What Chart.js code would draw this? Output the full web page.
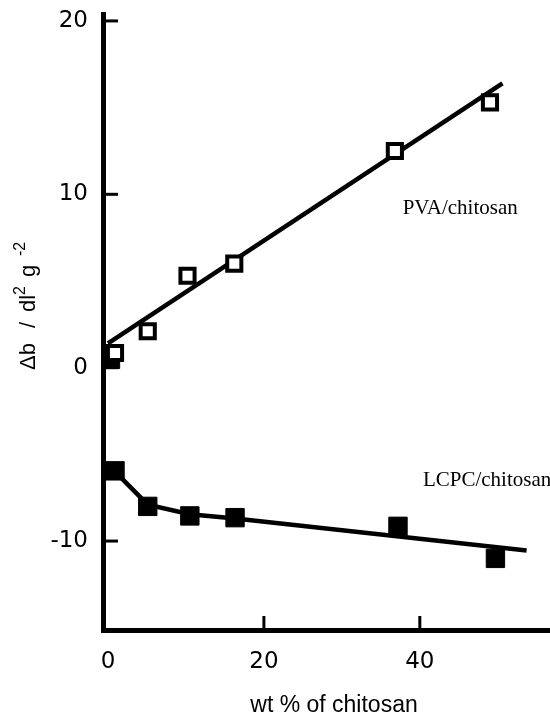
<!DOCTYPE html>
<html><head><meta charset="utf-8">
<script src="https://cdn.jsdelivr.net/npm/chart.js@4"></script>
<style>html,body{margin:0;padding:0;background:#fff;overflow:hidden}canvas{display:block}</style>
</head><body>
<canvas id="c" width="550" height="715"></canvas>
<script>
// ---- data ----
const xTicks = [0, 20, 40];
const yTicks = [-10, 0, 10, 20];

const pvaX = [0.9, 5.1, 10.2, 16.2, 36.8, 49.0];
const pvaY = [0.85, 2.1, 5.3, 6.0, 12.5, 15.3];
const pvaFitX = [0, 50.6];
const pvaFitY = [1.4, 16.4];

const lcpcX = [0.9, 5.1, 10.5, 16.3, 37.2, 49.7];
const lcpcY = [-5.95, -8.0, -8.55, -8.65, -9.15, -11.0];
const lcpcFitX = [0.9, 5.1, 10.5, 16.3, 53.7];
const lcpcFitY = [-6.0, -7.9, -8.45, -8.7, -10.55];

const originX = [0.5];
const originY = [0.4];

const xTitle = 'wt % of chitosan';
const pvaLabel = 'PVA/chitosan';
const lcpcLabel = 'LCPC/chitosan';

function pts(xs, ys) { return xs.map((x, i) => ({x: x, y: ys[i]})); }

const overlay = {
  id: 'overlay',
  afterDatasetsDraw(chart) {
    const ctx = chart.ctx, ca = chart.chartArea;
    const xs = chart.scales.x, ys = chart.scales.y;
    ctx.save();
    ctx.strokeStyle = '#000';
    ctx.lineWidth = 3;
    // inward tick marks
    yTicks.forEach(v => {
      const py = ys.getPixelForValue(v);
      ctx.beginPath(); ctx.moveTo(ca.left, py); ctx.lineTo(ca.left + 15, py); ctx.stroke();
    });
    xTicks.forEach(v => {
      if (v === 0) return;
      const px = xs.getPixelForValue(v);
      ctx.beginPath(); ctx.moveTo(px, ca.bottom); ctx.lineTo(px, ca.bottom - 14); ctx.stroke();
    });
    // series labels
    ctx.fillStyle = '#000';
    ctx.font = '21px "Liberation Serif"';
    ctx.textBaseline = 'alphabetic';
    ctx.textAlign = 'left';
    ctx.fillText(pvaLabel, xs.getPixelForValue(37.8), ys.getPixelForValue(8.85));
    ctx.fillText(lcpcLabel, xs.getPixelForValue(40.4), ys.getPixelForValue(-6.83));
    // x title
    ctx.font = '23px "Liberation Sans"';
    ctx.textAlign = 'center';
    ctx.fillText(xTitle, 334, 712);
    // y title (rotated, with superscripts)
    ctx.translate(35, 370);
    ctx.rotate(-Math.PI / 2);
    ctx.textAlign = 'left';
    const big = '22px "Liberation Sans"', small = '16px "Liberation Sans"';
    const parts = [['\u0394b', big, 0, 0], ['/', big, 42, 0], ['dl', big, 58, 0], ['2', small, 75, -10], ['g', big, 93, 0], ['-2', small, 114, -10]];
    parts.forEach(p => {
      ctx.font = p[1];
      ctx.fillText(p[0], p[2], p[3]);
    });
    ctx.restore();
  }
};

new Chart(document.getElementById('c').getContext('2d'), {
  type: 'scatter',
  data: {
    datasets: [
      { label: 'PVA fit', data: pts(pvaFitX, pvaFitY), showLine: true, borderColor: '#000', borderWidth: 4.5, pointRadius: 0, order: 2 },
      { label: 'LCPC fit', data: pts(lcpcFitX, lcpcFitY), showLine: true, borderColor: '#000', borderWidth: 4.5, pointRadius: 0, order: 2, tension: 0 },
      { label: 'PVA/chitosan', data: pts(pvaX, pvaY), pointStyle: 'rect', pointRadius: 10, backgroundColor: '#fff', borderColor: '#000', borderWidth: 4, order: 1 },
      { label: 'LCPC/chitosan', data: pts(lcpcX, lcpcY), pointStyle: 'rect', pointRadius: 13, backgroundColor: '#000', borderColor: '#000', borderWidth: 1, order: 1 },
      { label: 'origin', data: pts(originX, originY), pointStyle: 'rect', pointRadius: 11, backgroundColor: '#000', borderColor: '#000', borderWidth: 1, order: 1 }
    ]
  },
  options: {
    responsive: false,
    animation: false,
    devicePixelRatio: 1,
    layout: { autoPadding: false, padding: { top: 14, left: 0, right: 0, bottom: 0 } },
    plugins: { legend: { display: false }, tooltip: { enabled: false } },
    scales: {
      x: {
        type: 'linear', min: -0.64, max: 56.7,
        afterBuildTicks: s => { s.ticks = xTicks.map(v => ({value: v})); },
        afterFit: s => { s.height = 85; s.paddingLeft = 0; s.paddingRight = 0; },
        grid: { display: false, drawTicks: false },
        border: { display: true, width: 5, color: '#000' },
        ticks: { padding: 18, color: '#000', font: { family: 'DejaVu Sans', size: 23 } }
      },
      y: {
        type: 'linear', min: -15.13, max: 20.4,
        afterBuildTicks: s => { s.ticks = yTicks.map(v => ({value: v})); },
        afterFit: s => { s.width = 103; s.paddingTop = 0; s.paddingBottom = 0; },
        grid: { display: false, drawTicks: false },
        border: { display: true, width: 5, color: '#000' },
        ticks: { padding: 15, color: '#000', font: { family: 'DejaVu Sans', size: 23 } }
      }
    }
  },
  plugins: [overlay]
});
</script>
</body></html>
